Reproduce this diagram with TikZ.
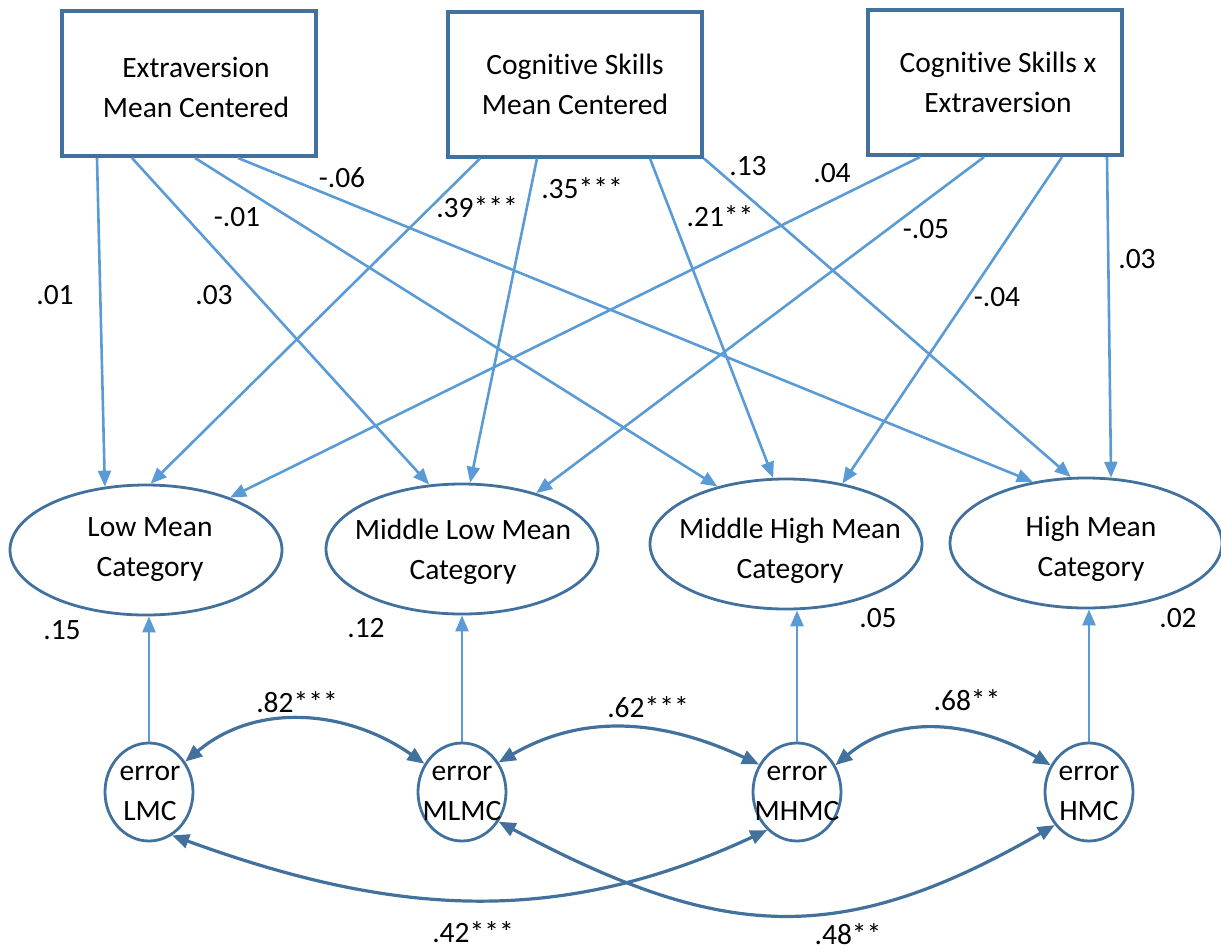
\documentclass[tikz,border=0pt]{standalone}
\usepackage{fontspec}
\setmainfont{Carlito}[RawFeature={-liga;-calt}]
\usetikzlibrary{shapes.geometric,arrows.meta,calc}
\definecolor{edgeblue}{HTML}{41719C}
\definecolor{pathblue}{HTML}{5B9BD5}
\begin{document}
\begin{tikzpicture}[x=1pt,y=1pt,
  every node/.style={font=\fontsize{29.5}{40}\selectfont, text=black},
  predbox/.style={draw=edgeblue, line width=4pt, minimum width=254pt, minimum height=145pt, inner sep=0pt},
  catell/.style={draw=edgeblue, ellipse, line width=2.8pt, minimum width=272pt, minimum height=130pt, inner sep=0pt},
  errell/.style={draw=edgeblue, ellipse, line width=2.8pt, minimum width=88pt, minimum height=98pt, inner sep=0pt},
  txt/.style={align=center, inner sep=0pt},
  coef/.style={inner sep=0pt},
  regpath/.style={draw=pathblue, line width=2.6pt, -{Triangle[length=16pt,width=13pt]}},
  covpath/.style={draw=edgeblue, line width=3.2pt, {Triangle[length=17pt,width=14pt]}-{Triangle[length=17pt,width=14pt]}},
]
\useasboundingbox (0,0) rectangle (1221,-951);

% predictors
\node[predbox] (b1) at (189,-83.5) {};
\node[predbox] (b2) at (575,-84) {};
\node[predbox] (b3) at (995,-82.5) {};
\node[txt] (t1) at (196,-87.5) {Extraversion\\Mean Centered};
\node[txt] (t2) at (575,-84) {Cognitive Skills\\Mean Centered};
\node[txt] (t3) at (998,-82) {Cognitive Skills x\\Extraversion};

% outcome categories
\node[catell] (low) at (146,-550) {};
\node[catell] (mlow) at (462,-549) {};
\node[catell] (mhigh) at (786,-544) {};
\node[catell] (high) at (1086,-543) {};
\node[txt] (lowt) at (150,-550) {Low Mean\\Category};
\node[txt] (mlowt) at (463,-552) {Middle Low Mean\\Category};
\node[txt] (mhight) at (790,-551) {Middle High Mean\\Category};
\node[txt] (hight) at (1091,-549) {High Mean\\Category};

% error terms
\node[errell] (eL) at (149,-792) {};
\node[errell] (eML) at (462,-792) {};
\node[errell] (eMH) at (797,-792) {};
\node[errell] (eH) at (1089,-792) {};
\node[txt] (eLt) at (150,-793) {error\\LMC};
\node[txt] (eMLt) at (462,-793) {error\\MLMC};
\node[txt] (eMHt) at (797,-793) {error\\MHMC};
\node[txt] (eHt) at (1089,-793) {error\\HMC};

% regression paths from Extraversion
\draw[regpath] ([xshift=-92pt]b1.south) -- (low.123.7);
\draw[regpath] ([xshift=-57pt]b1.south) -- (mlow.117.3);
\draw[regpath] ([xshift=6pt]b1.south) -- (mhigh.140.6);
\draw[regpath] ([xshift=49pt]b1.south) -- (high.131.5);
% regression paths from Cognitive Skills
\draw[regpath] ([xshift=-95pt]b2.south) -- (low.86.6);
\draw[regpath] ([xshift=-38pt]b2.south) -- (mlow.83.4);
\draw[regpath] ([xshift=75pt]b2.south) -- (mhigh.101.1);
\draw[regpath] (b2.south east) -- (high.103.8);
% regression paths from the interaction
\draw[regpath] ([xshift=-75pt]b3.south) -- (low.32.2);
\draw[regpath] ([xshift=-11pt]b3.south) -- (mlow.37.6);
\draw[regpath] ([xshift=67pt]b3.south) -- (mhigh.47.9);
\draw[regpath] ([xshift=112pt]b3.south) -- (high.69.9);

% error paths
\draw[regpath] (eL.north) -- (eL.north |- low.south);
\draw[regpath] (eML.north) -- (eML.north |- mlow.south);
\draw[regpath] (eMH.north) -- (eMH.north |- mhigh.south);
\draw[regpath] (eH.north) -- (eH.north |- high.south);

% error covariances
\draw[covpath] (eL.40) to[out=40,in=145] (eML.143);
\draw[covpath] (eML.39) to[out=30,in=155] (eMH.144);
\draw[covpath] (eMH.35) to[out=40,in=150] (eH.145);
\draw[covpath] (eL.-62) to[out=-20,in=205] (eMH.232);
\draw[covpath] (eML.-39) to[out=-28,in=210,looseness=1.15] (eH.224);

% coefficients
\node[coef] (c1) at (55,-295) {.01};
\node[coef] (c2) at (214,-295) {.03};
\node[coef] (c3) at (237,-217) {-.01};
\node[coef] (c4) at (342,-178) {-.06};
\node[coef] (c5) at (477,-207) {.39***};
\node[coef] (c6) at (582,-188) {.35***};
\node[coef] (c7) at (720,-216) {.21**};
\node[coef] (c8) at (748,-166) {.13};
\node[coef] (c9) at (832,-173) {.04};
\node[coef] (c10) at (926,-229) {-.05};
\node[coef] (c11) at (997,-297) {-.04};
\node[coef] (c12) at (1137,-259) {.03};
\node[coef] (r1) at (62,-630) {.15};
\node[coef] (r2) at (366,-628) {.12};
\node[coef] (r3) at (878,-618) {.05};
\node[coef] (r4) at (1178,-618) {.02};
\node[coef] (v1) at (297,-702) {.82***};
\node[coef] (v2) at (648,-707) {.62***};
\node[coef] (v3) at (967,-700) {.68**};
\node[coef] (v4) at (473,-932) {.42***};
\node[coef] (v5) at (848,-934) {.48**};
\end{tikzpicture}
\end{document}
